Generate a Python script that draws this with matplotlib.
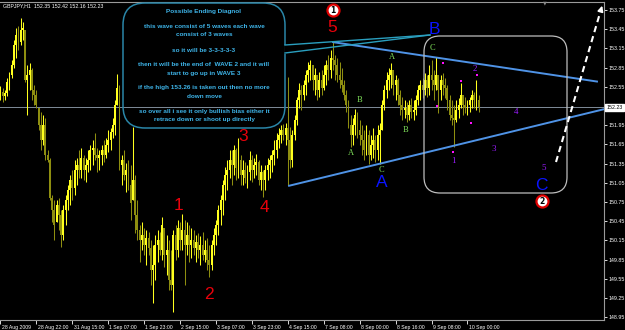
import numpy as np
import matplotlib
matplotlib.use("Agg")
import matplotlib.pyplot as plt
import matplotlib.transforms as mtransforms
from matplotlib.patches import FancyBboxPatch

# GBPJPY H1 bars (prices)
first_open = 152.40
highs = [
    152.56, 152.53, 152.50, 152.69, 152.78, 152.97, 153.28, 153.47, 153.50, 153.63,
    153.56, 153.44, 152.89, 152.92, 152.84, 152.58, 152.50, 152.22, 152.16, 152.11,
    152.06, 151.56, 151.44, 150.86, 150.78, 150.78, 150.81, 150.62, 150.70, 150.86,
    151.02, 151.17, 151.25, 151.41, 151.44, 151.56, 151.59, 151.48, 151.44, 151.56,
    151.64, 151.72, 151.83, 151.59, 151.56, 151.64, 151.72, 151.75, 151.88, 151.91,
    152.06, 152.34, 152.75, 152.58, 151.48, 151.56, 151.36, 151.41, 151.33, 151.92,
    151.17, 150.78, 150.39, 150.44, 150.34, 150.31, 150.28, 150.16, 150.08, 150.23,
    150.31, 150.28, 150.52, 150.34, 150.23, 150.16, 150.00, 150.31, 150.39, 150.47,
    150.44, 150.56, 150.47, 150.44, 150.39, 150.34, 150.31, 150.23, 150.27, 150.22,
    150.28, 150.16, 150.19, 150.08, 150.16, 150.34, 150.47, 150.70, 150.86, 151.09,
    151.30, 151.41, 151.56, 151.56, 151.64, 151.59, 151.75, 151.48, 151.41, 151.38,
    151.33, 151.55, 151.48, 151.44, 151.50, 151.41, 151.33, 151.25, 151.33, 151.44,
    151.48, 151.56, 151.72, 151.83, 151.91, 151.95, 151.97, 151.98, 152.70, 151.92,
    151.88, 152.11, 152.39, 152.61, 152.58, 152.66, 152.81, 152.94, 152.97, 152.89,
    152.84, 152.73, 152.78, 152.81, 152.89, 152.97, 153.05, 153.12, 153.25, 153.05,
    153.00, 152.94, 152.84, 152.66, 152.50, 152.34, 152.11, 152.06, 152.20, 152.16,
    152.03, 151.95, 151.88, 151.95, 151.88, 151.80, 151.91, 151.80, 151.95, 151.98,
    152.34, 152.58, 152.78, 152.84, 152.92, 152.81, 152.73, 152.69, 152.50, 152.39,
    152.34, 152.31, 152.34, 152.38, 152.34, 152.42, 152.58, 152.66, 152.69, 152.77,
    152.73, 152.89, 152.97, 152.81, 153.02, 152.73, 152.73, 152.77, 152.69, 152.58,
    152.42, 152.34, 152.27, 152.34, 152.38, 152.61, 152.42, 152.39, 152.34, 152.39,
    152.50, 152.47, 152.66, 152.42,
]
lows = [
    152.34, 152.31, 152.34, 152.41, 152.50, 152.69, 152.84, 153.00, 153.12, 153.20,
    153.28, 152.63, 152.11, 152.50, 152.34, 152.27, 152.22, 151.88, 151.56, 151.64,
    151.41, 151.38, 150.78, 150.44, 150.16, 150.44, 150.31, 150.05, 150.16, 150.39,
    150.62, 150.70, 150.78, 150.86, 151.02, 151.13, 151.13, 151.09, 151.06, 151.22,
    151.25, 151.33, 151.41, 151.22, 151.25, 151.33, 151.38, 151.44, 151.53, 151.56,
    151.75, 151.80, 152.27, 151.25, 151.02, 151.09, 150.91, 150.94, 150.47, 150.78,
    150.27, 150.16, 149.81, 150.00, 149.92, 149.77, 149.92, 149.45, 149.17, 149.53,
    149.81, 149.92, 149.84, 149.73, 149.61, 149.38, 149.38, 149.03, 149.84, 149.89,
    150.00, 150.00, 149.45, 149.92, 149.81, 149.88, 149.92, 149.81, 149.88, 149.77,
    149.84, 149.81, 149.69, 149.58, 149.69, 149.92, 150.08, 150.23, 150.39, 150.55,
    150.78, 150.94, 151.13, 151.02, 151.17, 151.09, 151.13, 151.02, 151.02, 151.05,
    150.97, 151.09, 151.06, 151.13, 151.17, 151.02, 150.94, 150.83, 150.94, 151.09,
    151.13, 151.22, 151.33, 151.44, 151.59, 151.67, 151.72, 151.64, 151.02, 151.28,
    151.30, 151.72, 151.95, 152.22, 152.19, 152.34, 152.42, 152.63, 152.66, 152.50,
    152.42, 152.34, 152.39, 152.42, 152.50, 152.58, 152.66, 152.69, 152.81, 152.66,
    152.63, 152.53, 152.47, 152.34, 152.16, 151.91, 151.61, 151.64, 151.80, 151.75,
    151.64, 151.48, 151.41, 151.48, 151.34, 151.41, 151.44, 151.38, 151.41, 151.34,
    151.88, 152.19, 152.38, 152.50, 152.53, 152.42, 152.34, 152.27, 152.11, 152.03,
    152.06, 152.00, 152.03, 152.06, 152.03, 152.11, 152.27, 152.34, 152.38, 152.42,
    152.39, 152.42, 152.50, 152.34, 152.50, 152.14, 152.34, 152.42, 152.38, 152.19,
    152.03, 151.95, 151.61, 152.00, 152.06, 152.22, 152.11, 152.14, 152.11, 152.16,
    152.22, 152.22, 152.19, 152.16,
]
closes = [
    152.47, 152.41, 152.45, 152.63, 152.73, 152.89, 153.20, 153.36, 153.25, 153.44,
    153.47, 152.66, 152.73, 152.81, 152.50, 152.42, 152.27, 151.95, 151.72, 151.95,
    151.48, 151.41, 150.81, 150.62, 150.39, 150.70, 150.55, 150.23, 150.62, 150.78,
    150.94, 151.09, 150.97, 151.25, 151.33, 151.25, 151.44, 151.25, 151.33, 151.41,
    151.56, 151.59, 151.48, 151.44, 151.48, 151.56, 151.48, 151.64, 151.72, 151.84,
    151.95, 152.27, 152.53, 151.33, 151.41, 151.17, 151.25, 151.02, 150.73, 151.09,
    150.55, 150.31, 150.16, 150.23, 150.08, 150.19, 150.03, 149.69, 149.77, 150.08,
    150.16, 150.00, 150.39, 149.92, 150.00, 149.53, 149.45, 150.23, 150.00, 150.34,
    150.16, 150.31, 150.08, 150.23, 150.08, 150.16, 150.03, 150.12, 150.00, 150.08,
    149.92, 150.00, 149.84, 149.77, 150.08, 150.23, 150.39, 150.62, 150.78, 151.02,
    151.17, 151.25, 151.41, 151.33, 151.56, 151.28, 151.41, 151.17, 151.25, 151.13,
    151.22, 151.41, 151.25, 151.33, 151.38, 151.09, 151.22, 151.09, 151.25, 151.33,
    151.41, 151.48, 151.56, 151.72, 151.80, 151.88, 151.80, 151.91, 151.72, 151.41,
    151.80, 152.03, 152.34, 152.50, 152.42, 152.58, 152.73, 152.81, 152.89, 152.66,
    152.73, 152.50, 152.66, 152.53, 152.73, 152.89, 152.81, 153.00, 152.97, 152.89,
    152.73, 152.66, 152.58, 152.42, 152.27, 151.95, 151.80, 151.95, 152.11, 151.88,
    151.80, 151.72, 151.56, 151.80, 151.48, 151.64, 151.72, 151.56, 151.80, 151.88,
    152.27, 152.50, 152.66, 152.73, 152.81, 152.58, 152.66, 152.42, 152.27, 152.19,
    152.22, 152.11, 152.27, 152.16, 152.19, 152.34, 152.50, 152.58, 152.50, 152.66,
    152.53, 152.73, 152.66, 152.58, 152.73, 152.50, 152.66, 152.58, 152.53, 152.34,
    152.11, 152.06, 152.03, 152.19, 152.27, 152.42, 152.27, 152.22, 152.27, 152.34,
    152.42, 152.34, 152.35, 152.23,
]

time_labels = ["28 Aug 2009", "28 Aug 22:00", "31 Aug 15:00", "1 Sep 07:00",
               "1 Sep 23:00", "2 Sep 15:00", "3 Sep 07:00", "3 Sep 23:00",
               "4 Sep 15:00", "7 Sep 08:00", "8 Sep 00:00", "8 Sep 16:00",
               "9 Sep 08:00", "10 Sep 00:00"]
bars_per_label = 16
price_ticks = np.round(np.arange(153.75, 148.90, -0.30), 2)
last_price = 152.23

# elliott wave labels: (bar, price, text)
red_waves = [(147.7, 153.47, "5"), (79.1, 150.70, "1"), (92.9, 149.30, "2"),
             (108.0, 151.78, "3"), (117.4, 150.67, "4")]
blue_waves = [(193.1, 153.45, "B"), (170.0, 151.05, "A"), (240.8, 151.00, "C")]
green_waves = [(174.4, 153.02, "A"), (159.7, 152.34, "B"), (156.1, 151.52, "A"),
               (169.5, 151.25, "C"), (180.2, 151.88, "B"), (192.6, 153.16, "C")]
purple_waves = [(201.6, 151.39, "1"), (211.4, 152.83, "2"), (219.8, 151.58, "3"),
                (229.6, 152.16, "4"), (242.1, 151.28, "5")]
circled = [(148.1, 153.75, "1"), (241.2, 150.76, "2")]
marks_x = [197.1, 205.1, 212.2, 194.4, 209.6, 201.6]
marks_y = [152.92, 152.64, 152.73, 152.25, 151.98, 151.53]
upper_line = ([147.7, 266.1], [153.25, 152.63])
lower_line = ([128.1, 268.8], [151.00, 152.20])

note_lines = ["Possible Ending Diagnol", "",
              "this wave consist of 5 waves each wave", "consist of 3 waves", "",
              "so it will be 3-3-3-3-3", "",
              "then it will be the end of  WAVE 2 and it will",
              "start to go up in WAVE 3", "",
              "if the high 153.26 is taken out then no more", "down move", "",
              "so over all i see it only bullish bias either it",
              "retrace down or shoot up directly"]

W, H = 625, 330
fig = plt.figure(figsize=(W / 100, H / 100), dpi=100, facecolor="black")
ax = fig.add_axes([0, 10 / H, 604 / W, 318.5 / H], facecolor="black")
# pixel coordinates (origin top-left) for the drawn objects
px = mtransforms.Affine2D().scale(1 / W, -1 / H).translate(0, 1) + fig.transFigure

n = len(closes)
idx = np.arange(n)
h = np.array(highs)
l = np.array(lows)
c = np.array(closes)
o = np.clip(np.r_[first_open, c[:-1]], l, h)
up = c >= o
cols = np.where(up, "#ffff1e", "#8e8e10")

ax.vlines(idx, l, h, colors=cols, lw=0.75, zorder=3)
ax.bar(idx, np.where(np.abs(c - o) < 0.01, 0.01, c - o), bottom=o, width=0.85,
       color=cols, lw=0, zorder=3)

ax.axhline(last_price, color="#7f8c99", lw=0.7, zorder=2)

ax.set_xlim(-0.22, 268.8)
ax.set_ylim(148.906, 153.883)

# axes
ax.spines["left"].set_visible(False)
for s in ["top", "bottom", "right"]:
    ax.spines[s].set_color("#9a9a9a")
    ax.spines[s].set_linewidth(0.8)
ax.yaxis.tick_right()
ax.set_yticks(price_ticks)
# 152.25 sits under the last price box
ax.set_yticklabels(["" if abs(p - last_price) < 0.1 else f"{p:.2f}" for p in price_ticks],
                   family="Liberation Sans")
ax.tick_params(axis="y", colors="white", labelsize=3.8, length=2, width=0.6, pad=1)
ax.set_xticks(np.arange(len(time_labels)) * bars_per_label)
ax.set_xticklabels(time_labels, ha="left", family="Liberation Sans")
ax.tick_params(axis="x", colors="white", labelsize=3.7, length=3, width=0.6, pad=0.8)
offset = mtransforms.ScaledTranslation(1.2 / 100, 0, fig.dpi_scale_trans)
for lab in ax.get_xticklabels():
    lab.set_transform(lab.get_transform() + offset)

ax.text(1.004, last_price, f"{last_price:.2f}", transform=ax.get_yaxis_transform(),
        color="black", fontsize=3.8, va="center", ha="left", zorder=10, clip_on=False,
        family="Liberation Sans",
        bbox=dict(boxstyle="square,pad=0.2", fc="white", ec="white"))

# trend lines
ax.plot(*upper_line, color="#4f93e6", lw=1.4, zorder=4, solid_capstyle="butt")
ax.plot(*lower_line, color="#4f93e6", lw=1.4, zorder=4, solid_capstyle="butt")

# wave labels
for x, y, t in red_waves:
    ax.text(x, y, t, color="#e8000b", fontsize=12.5, ha="center", va="center",
            family="Liberation Sans", zorder=6)
for x, y, t in blue_waves:
    ax.text(x, y, t, color="#0a14ff", fontsize=12.5, ha="center", va="center",
            family="Liberation Sans", zorder=6)
for x, y, t in green_waves:
    ax.text(x, y, t, color="#7fe05a", fontsize=6, ha="center", va="center",
            family="Liberation Serif", zorder=6)
for x, y, t in purple_waves:
    ax.text(x, y, t, color="#9a1cff", fontsize=6.5, ha="center", va="center",
            family="Liberation Serif", zorder=6)
ax.scatter(marks_x, marks_y, marker="s", s=4, color="#ff10ff", lw=0, zorder=6)

for x, y, t in circled:
    ax.scatter([x], [y], s=75, facecolor="white", edgecolor="#e00000", lw=1.6,
               zorder=7, clip_on=False)
    ax.text(x, y - 0.005, t, color="black", fontsize=5.5, fontweight="bold",
            ha="center", va="center", zorder=8, clip_on=False)

# note box with callout
note_box = FancyBboxPatch((123, 3), 162, 125, boxstyle="round,pad=0,rounding_size=22",
                          transform=px, fc="none", ec="#2a86a8", lw=1.1, zorder=5)
fig.add_artist(note_box)
fig.add_artist(plt.Line2D([285, 285], [46, 52], transform=px, color="black", lw=2, zorder=5))
fig.add_artist(plt.Line2D([285, 430], [45, 35], transform=px, color="#2a9fbf", lw=1.0, zorder=5))
fig.add_artist(plt.Line2D([285, 430], [53, 35], transform=px, color="#2a9fbf", lw=1.0, zorder=5))
ys = [11, 0, 26, 34, 0, 50, 0, 65, 73, 0, 88, 97, 0, 111, 120]
for t, yy in zip(note_lines, ys):
    if t:
        fig.text(204, yy, t, transform=px, color="#3eb4e8", fontsize=4.6,
                 fontweight="bold", ha="center", va="center", zorder=6,
                 family="Liberation Sans")

# target zone box
zone = FancyBboxPatch((424, 36), 143, 157, boxstyle="round,pad=0,rounding_size=16",
                      transform=px, fc="none", ec="#bdbdbd", lw=0.9, zorder=5)
fig.add_artist(zone)

# dashed up arrow
fig.add_artist(plt.Line2D([556, 600], [162, 13], transform=px, color="white", lw=1.5,
                          ls=(0, (3, 2)), zorder=6))
ax.annotate("", xy=(603, 3), xytext=(600, 13), xycoords=px, textcoords=px,
            arrowprops=dict(arrowstyle="-|>", color="white", lw=1.2, mutation_scale=8),
            annotation_clip=False, zorder=6)

# chart shift marker and header
fig.text(545, 3, "\u25BC", transform=px, color="#8a8a8a", fontsize=3.5, ha="center",
         va="center")
fig.text(3, 6, "GBPJPY,H1  152.35 152.42 152.16 152.23", transform=px, color="white",
         fontsize=3.8, ha="left", va="center", family="Liberation Sans")

fig.savefig("out.png", dpi=100, facecolor="black")
